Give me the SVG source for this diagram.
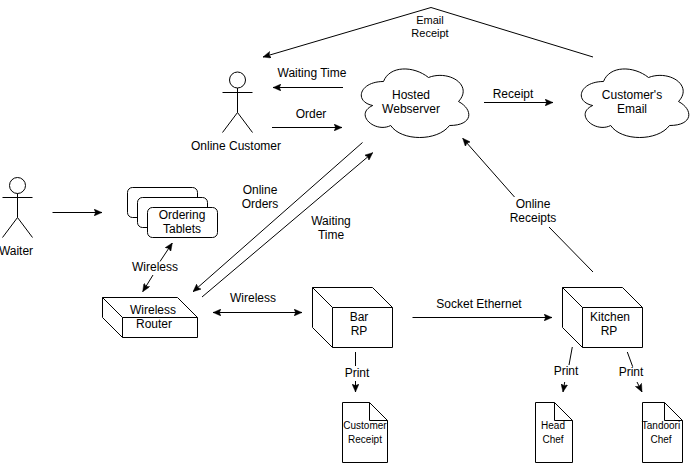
<svg xmlns="http://www.w3.org/2000/svg" width="694" height="464" viewBox="0 0 694 464">
<style>
text{font-family:"Liberation Sans",Arial,Helvetica,sans-serif;font-size:12px;fill:#000;text-anchor:middle}
text.s{font-size:10px}
text.m{font-size:11px}
.n{fill:#fff;stroke:#000;stroke-width:1}
.o{fill:none;stroke:#000;stroke-width:1}
.c{fill:none;stroke:#000;stroke-width:1;marker-end:url(#a)}
.d{fill:none;stroke:#000;stroke-width:1;marker-start:url(#a);marker-end:url(#a)}
</style>
<defs>
<marker id="a" markerUnits="userSpaceOnUse" viewBox="0 0 8 7" markerWidth="8" markerHeight="7" refX="8" refY="3.5" orient="auto-start-reverse"><path d="M0,0L8,3.5L0,7L1.6,3.5Z" fill="#000" stroke="#000" stroke-width=".4"/></marker>
<path id="cloud" d="M30,20C6,20 0,40 19.200,44C0,52.800 21.600,72 37.200,64C48,80 84,80 96,64C120,64 120,48 105,40C120,24 96,8 75,16C60,4 36,4 30,20Z"/>
<path id="box" d="M0,0H60L80,20V60H20L0,40ZM0,0L20,20H80M20,20V60"/>
</defs>
<g id="connectors">
<path class="c" d="M52.500,212.500H102"/>
<path class="c" d="M160,261.500L172.300,243"/>
<path class="c" d="M153,275L142.700,291.700"/>
<path class="c" d="M343,87.500H273"/>
<path class="c" d="M272,127.500H342"/>
<path class="c" d="M593,57L431,7.500L263,57"/>
<path class="c" d="M484,102.500H553"/>
<path class="c" d="M362.500,142.500L193,291.700"/>
<path class="c" d="M202,297L372.700,152.700"/>
<path class="d" d="M213,312.500H302"/>
<path class="c" d="M412.500,317.500H552"/>
<path class="o" d="M355.500,352V366"/>
<path class="c" d="M355.500,381V392"/>
<path class="o" d="M572.300,347L569,365"/>
<path class="c" d="M564.700,382L563,392"/>
<path class="o" d="M627.300,352L632.700,366.700"/>
<path class="c" d="M637,382L642,392"/>
<path class="o" d="M593,272L549,227"/>
<path class="c" d="M514.500,197L462.700,138.300"/>
</g>
<g id="waiter"><circle class="o" cx="17.500" cy="185.500" r="8"/><path class="o" d="M17.500,193.500V217.500M2.500,197.500H32.500M2.500,237.500L17.500,217.500L32.500,237.500"/><text x="16" y="255">Waiter</text></g>
<g id="online-customer"><circle class="o" cx="237.500" cy="80" r="8"/><path class="o" d="M237.500,88V112.500M222.500,92.500H252.500M222.500,132.500L237.500,112.500L252.500,132.500"/><text x="236" y="150">Online Customer</text></g>
<g id="tablets"><rect class="n" x="127.500" y="187.500" width="70" height="30" rx="5"/><rect class="n" x="137.500" y="197.500" width="70" height="30" rx="5"/><rect class="n" x="147.500" y="207.500" width="70" height="30" rx="5"/><text x="182" y="219">Ordering</text><text x="182" y="233">Tablets</text></g>
<g id="router"><path class="n" d="M102.500,297.500H177.500L197.500,317.500V337.500H122.500L102.500,317.500ZM102.500,297.500L122.500,317.500H197.500M122.500,317.500V337.500"/><text x="153" y="314">Wireless</text><text x="154" y="328">Router</text></g>
<g id="webserver"><use href="#cloud" class="n" x="353.500" y="61.500"/><text x="411" y="99">Hosted</text><text x="411" y="113">Webserver</text></g>
<g id="email"><use href="#cloud" class="n" x="573.500" y="61.500"/><text x="632" y="99">Customer's</text><text x="632" y="113">Email</text></g>
<g id="bar"><use href="#box" class="n" x="312.500" y="287.500"/><text x="359" y="321">Bar</text><text x="359" y="335">RP</text></g>
<g id="kitchen"><use href="#box" class="n" x="562.500" y="287.500"/><text x="610" y="321">Kitchen</text><text x="609" y="335">RP</text></g>
<g id="customer-receipt"><path class="n" d="M342.500,402.500H369.500L387.500,420.500V462.500H342.500ZM369.500,402.500V420.500H387.500"/><text class="s" x="365" y="429">Customer</text><text class="s" x="365" y="443">Receipt</text></g>
<g id="head-chef"><path class="n" d="M535.500,402.500H554.500L572.500,420.500V462.500H535.500ZM554.500,402.500V420.500H572.500"/><text class="s" x="553" y="429">Head</text><text class="s" x="553" y="443">Chef</text></g>
<g id="tandoori-chef"><path class="n" d="M642.500,402.500H664.500L682.500,420.500V462.500H642.500ZM664.500,402.500V420.500H682.500"/><text class="s" x="661" y="429">Tandoori</text><text class="s" x="661" y="443">Chef</text></g>
<g id="labels">
<text class="m" x="430" y="24">Email</text><text class="m" x="430" y="37">Receipt</text>
<text x="312" y="77">Waiting Time</text>
<text x="311" y="118">Order</text>
<text x="513" y="98">Receipt</text>
<text x="260" y="194">Online</text><text x="260" y="208">Orders</text>
<text x="331" y="225">Waiting</text><text x="331" y="239">Time</text>
<text x="533" y="208">Online</text><text x="533" y="222">Receipts</text>
<text x="155" y="271">Wireless</text>
<text x="253" y="302">Wireless</text>
<text x="479" y="308">Socket Ethernet</text>
<text x="357" y="377">Print</text>
<text x="566" y="375">Print</text>
<text x="631" y="376">Print</text>
</g>
</svg>
